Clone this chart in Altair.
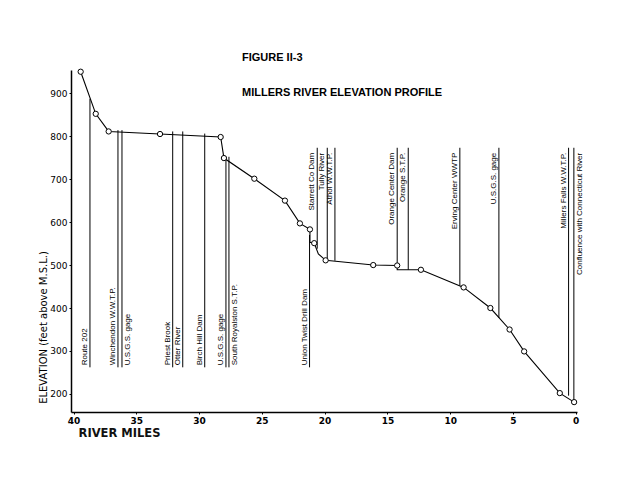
import altair as alt
import pandas as pd

# ---- river profile (river miles, elevation ft) ----
prof_mile = [39.43, 38.23, 37.2, 33.11, 28.28, 28.02, 25.6, 23.16, 21.97, 21.17, 21.17,
             20.83, 20.5, 19.92, 16.13, 14.22, 14.22, 12.33, 8.93, 6.8, 5.27, 4.11, 1.27, 0.13]
prof_elev = [950, 852, 811, 805, 798, 749, 701, 650, 597, 583, 553,
             551, 526, 511, 500, 499, 489, 489, 448, 400, 350, 299, 202, 181]
prof_circle = [1, 1, 1, 1, 1, 1, 1, 1, 1, 1, 0,
               1, 0, 1, 1, 1, 0, 1, 1, 1, 1, 1, 1, 1]

# ---- landmarks ----
lm_name = ["Route 202", "Winchendon  W.W.T.P.", "U.S.G.S.  gage", "Priest  Brook",
           "Otter  River", "Birch  Hill  Dam", "U.S.G.S.  gage", "South  Royalston  S.T.P.",
           "Union  Twist  Drill  Dam", "Starrett  Co  Dam", "Tully  River", "Athol  W.W.T.P.",
           "Orange  Center  Dam", "Orange  S.T.P.", "Erving  Center  WWTP", "U.S.G.S.  gage",
           "Millers  Falls  W.W.T.P.", "Confluence  with  Connecticut  River"]
lm_mile = [38.69, 36.46, 36.14, 32.1, 31.3, 29.55, 27.86, 27.62, 21.2,
           20.59, 19.79, 19.18, 14.22, 13.34, 9.23, 6.12, 0.57, 0.15]
lm_bottom = [262, 262, 262, 262, 262, 262, 262, 262, 262,
             538, 511, 510, 499, 489, 452, 377, 196, 181]
lm_top = [887, 814, 814, 811, 811, 806, 752, 752, 570,
          773, 773, 773, 773, 773, 773, 773, 773, 773]
lm_group = ["low"] * 9 + ["high"] * 9
lm_side = ["left", "left", "right", "left", "left", "left", "left", "right", "left",
           "left", "left", "left", "left", "left", "left", "left", "left", "right"]

x_ticks = [40, 35, 30, 25, 20, 15, 10, 5, 0]
y_ticks = [200, 300, 400, 500, 600, 700, 800, 900]

prof = pd.DataFrame({"mile": prof_mile, "elev": prof_elev, "circle": prof_circle,
                     "idx": list(range(len(prof_mile)))})
lm = pd.DataFrame({"name": lm_name, "mile": lm_mile, "bottom": lm_bottom, "top": lm_top,
                   "group": lm_group, "side": lm_side})
lm["anchor"] = [b if g == "low" else t for b, t, g in zip(lm_bottom, lm_top, lm_group)]

FONT = "DejaVu Sans"
XS = alt.Scale(domain=[-0.1, 40.2], reverse=True, nice=False, zero=False)
YS = alt.Scale(domain=[158, 954], nice=False, zero=False)
XAX = alt.Axis(values=x_ticks, title="RIVER  MILES", grid=False, tickSize=2,
               labelFont=FONT, labelFontSize=9, labelFontWeight="bold", labelPadding=2,
               labelColor="black", tickColor="black", domainColor="black", domainWidth=1.5,
               titleFont=FONT, titleFontSize=11.5, titleFontWeight="bold", titleColor="#111111",
               titleX=48, titleY=21, titleAlign="center", titleBaseline="middle", titleAngle=0)
YAX = alt.Axis(values=y_ticks, title="ELEVATION  (feet above M.S.L.)", grid=False, tickSize=2,
               labelFont=FONT, labelFontSize=9, labelFontWeight="normal", labelPadding=2,
               labelColor="black", tickColor="black", domainColor="black", domainWidth=1.5,
               titleFont=FONT, titleFontSize=10, titleFontWeight="normal", titleColor="black",
               titleX=-28, titleY=257, titleAlign="center", titleBaseline="middle", titleAngle=270)

base_lm = alt.Chart(lm)
rules = base_lm.mark_rule(color="black", strokeWidth=1).encode(
    x=alt.X("mile:Q", scale=XS, axis=XAX),
    y=alt.Y("bottom:Q", scale=YS, axis=YAX),
    y2="top:Q",
)

def lab(group, side):
    if group == "low":
        align, dx = "left", 2
    else:
        align, dx = "right", -5
    if side == "left":
        baseline, dy = "bottom", -1
    else:
        baseline, dy = "top", 2
    return base_lm.transform_filter(
        (alt.datum.group == group) & (alt.datum.side == side)
    ).mark_text(angle=270, align=align, baseline=baseline, dx=dx, dy=dy,
                font="Liberation Sans", fontSize=8, color="black").encode(
        x=alt.X("mile:Q", scale=XS, axis=XAX),
        y=alt.Y("anchor:Q", scale=YS, axis=YAX),
        text="name:N",
    )

labels = [lab("low", "left"), lab("low", "right"), lab("high", "left"), lab("high", "right")]

line = alt.Chart(prof).mark_line(color="black", strokeWidth=1.1).encode(
    x=alt.X("mile:Q", scale=XS, axis=XAX),
    y=alt.Y("elev:Q", scale=YS, axis=YAX),
    order="idx:Q",
)
pts = alt.Chart(prof).transform_filter(alt.datum.circle == 1).mark_point(
    shape="circle", filled=True, fill="white", stroke="black", strokeWidth=1, size=28, opacity=1
).encode(
    x=alt.X("mile:Q", scale=XS, axis=XAX),
    y=alt.Y("elev:Q", scale=YS, axis=YAX),
)

t1 = alt.Chart(alt.Data(values=[{}])).mark_text(
    text="FIGURE II-3", align="left", baseline="middle", font="Liberation Sans",
    fontSize=11, fontWeight="bold", color="black").encode(x=alt.value(171), y=alt.value(-12))
t2 = alt.Chart(alt.Data(values=[{}])).mark_text(
    text="MILLERS RIVER ELEVATION PROFILE", align="left", baseline="middle", font="Liberation Sans",
    fontSize=11, fontWeight="bold", color="black").encode(x=alt.value(171), y=alt.value(23))

chart = alt.layer(rules, *labels, line, pts, t1, t2).properties(
    width=506, height=342,
    padding={"left": 63, "top": 62, "right": 50, "bottom": 60},
    autosize=alt.AutoSizeParams(type="none"),
    background="white",
).configure_view(stroke=None)

chart.save("out.html", embed_options={"renderer": "svg", "actions": False})
